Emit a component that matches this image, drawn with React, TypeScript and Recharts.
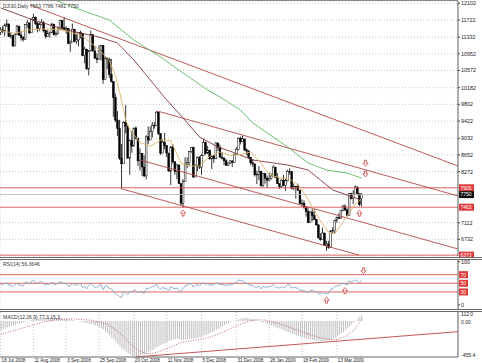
import React from 'react';
import {
  ComposedChart, Bar, Line, XAxis, YAxis, CartesianGrid, ReferenceLine, ReferenceDot,
} from 'recharts';

// DJI30 daily bars, 18 Jul 2008 .. 31 Mar 2009
const opens = [
  11446, 11496, 11467, 11602, 11632, 11349, 11370, 11131, 11397, 11583,
  11378, 11326, 11284, 11615, 11656, 11431, 11734, 11782, 11643, 11532,
  11615, 11659, 11479, 11348, 11417, 11430, 11628, 11387, 11412, 11502,
  11715, 11543, 11516, 11532, 11188, 11220, 11510, 11231, 11268, 11434,
  11421, 10917, 11059, 10609, 11019, 11388, 11016, 10854, 10825, 11022,
  11143, 10365, 10851, 10831, 10483, 10325, 9955, 9447, 9258, 8579,
  8451, 9387, 9310, 8577, 8979, 8852, 9265, 9033, 8519, 8691,
  8378, 8175, 9065, 8991, 9180, 9325, 9319, 9625, 9139, 8695,
  8943, 8870, 8694, 8283, 8835, 8497, 8273, 8424, 7997, 7552,
  8046, 8443, 8479, 8726, 8829, 8149, 8419, 8591, 8376, 8635,
  8934, 8691, 8761, 8565, 8629, 8564, 8924, 8824, 8604, 8579,
  8519, 8419, 8468, 8515, 8483, 8668, 8776, 9034, 8952, 9015,
  8769, 8742, 8599, 8474, 8448, 8200, 8212, 8281, 7949, 8228,
  8123, 8077, 8116, 8174, 8375, 8149, 8000, 7936, 8078, 7956,
  8063, 8280, 8270, 7888, 7939, 7933, 7850, 7553, 7556, 7466,
  7365, 7115, 7351, 7270, 7182, 7063, 6763, 6726, 6876, 6594,
  6627, 6547, 6926, 6930, 7170, 7224, 7216, 7395, 7486, 7400,
  7278, 7776, 7660, 7749, 7924, 7776, 7663,
];
const highs = [
  11560, 11580, 11640, 11730, 11640, 11450, 11380, 11420, 11610, 11590,
  11470, 11350, 11630, 11720, 11660, 11760, 11867, 11800, 11680, 11670,
  11740, 11700, 11480, 11500, 11460, 11660, 11630, 11460, 11570, 11730,
  11715, 11790, 11580, 11532, 11250, 11640, 11520, 11400, 11450, 11480,
  11421, 11110, 11060, 11040, 11480, 11390, 11130, 10960, 11150, 11150,
  11143, 10900, 10880, 10860, 10840, 10330, 10050, 9650, 9450, 8900,
  9420, 9790, 9320, 9000, 9200, 9270, 9300, 9033, 8800, 8691,
  8640, 9100, 9300, 9300, 9400, 9400, 9650, 9630, 9140, 9000,
  9150, 8870, 8700, 8850, 8900, 8500, 8450, 8430, 8000, 8100,
  8600, 8600, 8740, 8830, 8830, 8430, 8620, 8630, 8670, 9020,
  8960, 8860, 8770, 8650, 8650, 8940, 8930, 8890, 8720, 8600,
  8560, 8480, 8530, 8530, 8680, 8830, 9050, 9070, 9090, 9015,
  8800, 8760, 8600, 8560, 8450, 8290, 8400, 8290, 8240, 8230,
  8180, 8250, 8230, 8420, 8375, 8240, 8000, 8100, 8200, 8110,
  8320, 8350, 8280, 8000, 7950, 8000, 7850, 7640, 7620, 7470,
  7440, 7380, 7420, 7420, 7200, 7063, 6870, 7000, 6880, 6700,
  6700, 6930, 7010, 7170, 7250, 7330, 7400, 7520, 7530, 7440,
  7780, 7790, 7850, 7960, 7924, 7776, 7786,
];
const lows = [
  11380, 11420, 11350, 11560, 11330, 11300, 11110, 11130, 11390, 11360,
  11250, 11230, 11284, 11540, 11400, 11430, 11700, 11610, 11440, 11470,
  11600, 11440, 11300, 11330, 11320, 11430, 11370, 11350, 11390, 11502,
  11500, 11480, 11410, 11170, 11000, 11220, 11220, 11180, 11120, 11300,
  10900, 10740, 10590, 10460, 11019, 11000, 10840, 10740, 10825, 10800,
  10270, 10365, 10600, 10400, 10300, 9520, 9400, 9080, 8540, 7882,
  8451, 9150, 8570, 8200, 8700, 8850, 9000, 8400, 8300, 8170,
  8150, 8100, 8900, 8991, 9050, 9250, 9319, 9110, 8650, 8690,
  8780, 8600, 8280, 7965, 8450, 8200, 8100, 7990, 7510, 7449,
  8046, 8350, 8400, 8700, 8140, 8149, 8280, 8330, 8200, 8635,
  8660, 8680, 8540, 8330, 8470, 8564, 8740, 8580, 8550, 8420,
  8400, 8400, 8450, 8380, 8470, 8660, 8760, 8890, 8940, 8740,
  8650, 8560, 8420, 8380, 8160, 7990, 8080, 7940, 7930, 8000,
  7910, 8050, 8090, 8174, 8120, 7990, 7880, 7900, 7940, 7830,
  8050, 8200, 7870, 7850, 7660, 7840, 7530, 7480, 7430, 7250,
  7100, 7110, 7140, 7170, 7040, 6760, 6700, 6726, 6580, 6470,
  6517, 6547, 6860, 6860, 7110, 7200, 7200, 7370, 7380, 7250,
  7278, 7640, 7530, 7749, 7740, 7483, 7481,
];
const closes = [
  11496, 11467, 11602, 11632, 11349, 11370, 11131, 11397, 11583, 11378,
  11326, 11284, 11615, 11656, 11431, 11734, 11782, 11643, 11532, 11615,
  11659, 11479, 11348, 11417, 11430, 11628, 11387, 11412, 11502, 11715,
  11543, 11516, 11532, 11188, 11220, 11510, 11231, 11268, 11434, 11421,
  10917, 11059, 10609, 11019, 11388, 11016, 10854, 10825, 11022, 11143,
  10365, 10851, 10831, 10483, 10325, 9955, 9447, 9258, 8579, 8451,
  9387, 9310, 8577, 8979, 8852, 9265, 9033, 8519, 8691, 8378,
  8175, 9065, 8991, 9180, 9325, 9319, 9625, 9139, 8695, 8943,
  8870, 8694, 8283, 8835, 8497, 8273, 8424, 7997, 7552, 8046,
  8443, 8479, 8726, 8829, 8149, 8419, 8591, 8376, 8635, 8934,
  8691, 8761, 8565, 8629, 8564, 8924, 8824, 8604, 8579, 8519,
  8419, 8468, 8515, 8483, 8668, 8776, 9034, 8952, 9015, 8769,
  8742, 8599, 8474, 8448, 8200, 8212, 8281, 7949, 8228, 8123,
  8077, 8116, 8174, 8375, 8149, 8000, 7936, 8078, 7956, 8063,
  8280, 8270, 7888, 7939, 7933, 7850, 7553, 7556, 7466, 7365,
  7115, 7351, 7270, 7182, 7063, 6763, 6726, 6876, 6594, 6627,
  6547, 6926, 6930, 7170, 7224, 7216, 7395, 7486, 7400, 7278,
  7776, 7660, 7749, 7924, 7776, 7522, 7750,
];

// moving averages as [bar, value]
const ma10Pts = [
  [0, 11480], [7, 11420], [14, 11500], [22, 11520], [29, 11500], [34, 11440], [39, 11380],
  [44, 11200], [48, 11050], [53, 10800], [56, 10450], [58, 10100], [61, 9450], [63, 9230],
  [68, 8930], [73, 8850], [78, 8990], [83, 8980], [88, 8460], [92, 8400], [97, 8400],
  [102, 8620], [107, 8720], [112, 8640], [117, 8660], [122, 8720], [127, 8460], [131, 8210],
  [136, 8130], [141, 8110], [146, 7930], [151, 7560], [156, 7150], [160, 6890], [163, 6860],
  [167, 7130], [170, 7330], [173, 7530], [176, 7650],
];
const ma50Pts = [
  [0, 11995], [16, 11722], [32, 11495], [48, 11335], [57, 11198], [65, 10812], [73, 10357],
  [81, 9902], [89, 9493], [97, 9060], [106, 8833], [113, 8719], [123, 8537], [140, 8423],
  [150, 8309], [156, 8082], [162, 7855], [169, 7741], [176, 7627],
];
const ma100Pts = [
  [20, 12300], [35, 12018], [53, 11722], [65, 11267], [78, 10880], [89, 10516], [101, 10130],
  [107, 9970], [117, 9675], [123, 9380], [140, 8833], [150, 8469], [159, 8309], [169, 8241],
  [176, 8127],
];

const rsi = [
  46, 48, 50, 51, 45, 46, 42, 47, 50, 46,
  45, 44, 52, 53, 48, 55, 56, 52, 50, 53,
  54, 49, 46, 48, 48, 53, 47, 48, 50, 55,
  51, 50, 50, 43, 44, 50, 45, 46, 49, 49,
  40, 43, 37, 45, 51, 44, 41, 41, 45, 47,
  35, 44, 44, 38, 37, 31, 26, 24, 19, 18,
  30, 29, 24, 31, 30, 35, 33, 28, 32, 29,
  27, 38, 37, 40, 43, 43, 48, 41, 36, 40,
  39, 37, 33, 42, 39, 37, 39, 34, 30, 38,
  44, 45, 48, 50, 41, 45, 47, 44, 48, 52,
  48, 49, 46, 47, 46, 51, 50, 47, 47, 46,
  45, 46, 47, 46, 50, 52, 58, 56, 57, 51,
  50, 47, 45, 45, 41, 41, 43, 37, 43, 41,
  41, 42, 43, 47, 42, 40, 39, 42, 40, 42,
  47, 46, 39, 40, 40, 38, 34, 34, 33, 31,
  28, 34, 33, 32, 30, 26, 25, 30, 26, 27,
  26, 37, 37, 43, 44, 44, 48, 50, 48, 46,
  56, 53, 55, 58, 55, 51, 56.4,
];

const macd = [
  -120, -108, -96, -85, -75, -66, -57, -48, -40, -32,
  -24, -17, -10, -3, 3, 10, 17, 23, 28, 32,
  35, 37, 38, 39, 40, 40, 39, 37, 35, 33,
  31, 28, 25, 20, 15, 10, 5, 0, -5, -10,
  -16, -22, -28, -34, -40, -47, -56, -66, -78, -92,
  -110, -135, -160, -185, -210, -236, -265, -295, -325, -350,
  -370, -390, -408, -425, -440, -452, -455, -448, -438, -428,
  -418, -408, -396, -382, -366, -350, -334, -318, -303, -290,
  -278, -266, -255, -245, -237, -230, -228, -230, -234, -238,
  -236, -233, -230, -226, -222, -218, -212, -205, -197, -188,
  -178, -166, -154, -140, -126, -112, -98, -84, -70, -56,
  -42, -30, -18, -8, 2, 12, 22, 30, 36, 40,
  38, 34, 28, 22, 15, 8, 0, -10, -20, -30,
  -40, -50, -60, -70, -80, -90, -100, -110, -120, -130,
  -140, -150, -160, -170, -180, -190, -200, -208, -216, -224,
  -230, -236, -240, -244, -247, -250, -252, -253, -252, -248,
  -242, -234, -222, -208, -192, -175, -156, -136, -114, -92,
  -70, -46, -22, 2, 28, 54, 77,
];
const signalPts = [
  [0, -170], [10, -95], [20, -20], [28, 20], [36, 25], [45, 5], [52, -40], [58, -150],
  [63, -280], [67, -370], [71, -415], [76, -400], [82, -340], [88, -275], [94, -245],
  [100, -220], [106, -170], [112, -100], [118, -30], [124, 15], [129, 10], [134, -20],
  [140, -70], [146, -130], [152, -185], [158, -225], [163, -240], [168, -200], [172, -130],
  [176, 15],
];

const priceTicks = [12102, 11722, 11332, 10952, 10572, 10182, 9802, 9422, 9032, 8652, 8272, 7112, 6732];
const dateTicks = [0, 16, 32, 48, 65, 81, 98, 115, 131, 147, 164];
const dateLabels = [
  '18 Jul 2008', '11 Aug 2008', '3 Sep 2008', '25 Sep 2008', '20 Oct 2008', '11 Nov 2008',
  '5 Dec 2008', '31 Dec 2008', '26 Jan 2009', '18 Feb 2009', '13 Mar 2009',
];

// trend lines as [bar, price] pairs
const trendLines = [
  [[14.3, 12063], [223.1, 8400]],
  [[76.3, 9654], [223.1, 7718]],
  [[68, 8537], [223.1, 6512]],
  [[59, 7882], [174.8, 6373]],
];
const macdTrend = [[66, -455], [223.1, -136]];

const levels = [
  { y: 7905, text: '7905', color: '#d9534f', box: '#e03a3a' },
  { y: 7750, text: '7750', color: '#b8b8b8', box: '#111' },
  { y: 7463, text: '7463', color: '#d9534f', box: '#e03a3a' },
  { y: 6373, text: '6373', color: '#d9534f', box: '#e03a3a' },
];
const upArrows = [[89, 7330], [175, 7325]];
const downArrows = [[178, 8465], [178, 8220]];
const rsiUp = [[159, 11], [168, 33]];
const rsiDown = [[177, 79]];

const FONT = '"Liberation Sans", Arial, sans-serif';
const X_DOMAIN: [number, number] = [-0.3, 223.1];

const toMap = (pts: number[][]) => new Map(pts.map(([i, v]) => [i, v]));
const m10 = toMap(ma10Pts);
const m50 = toMap(ma50Pts);
const m100 = toMap(ma100Pts);
const sig = toMap(signalPts);

const mainData = closes.map((c, i) => ({
  i,
  range: [lows[i], highs[i]],
  o: opens[i],
  c,
  ma10: m10.get(i) ?? null,
  ma50: m50.get(i) ?? null,
  ma100: m100.get(i) ?? null,
}));
const rsiData = rsi.map((v, i) => ({ i, rsi: v }));
const macdData = macd.map((v, i) => ({ i, macd: v, signal: sig.get(i) ?? null }));

const Candle = (props: any) => {
  let { x, y, width, height } = props;
  const { payload } = props;
  if (height < 0) { y += height; height = -height; }
  const [lo, hi] = payload.range;
  const k = height / Math.max(hi - lo, 1);
  const cx = x + width / 2;
  const yO = y + (hi - payload.o) * k;
  const yC = y + (hi - payload.c) * k;
  const top = Math.min(yO, yC);
  const h = Math.max(Math.abs(yO - yC), 0.7);
  const bull = payload.c >= payload.o;
  return (
    <g>
      <line x1={cx} x2={cx} y1={y} y2={y + height} stroke="#000" strokeWidth={0.8} />
      <rect x={cx - 0.9} y={top} width={1.8} height={h} fill={bull ? '#fff' : '#000'} stroke="#000" strokeWidth={0.5} />
    </g>
  );
};

const boxLabel = (text: string, fill: string) => (props: any) => {
  const vb = props.viewBox || {};
  const x = (vb.x ?? 0) + (vb.width ?? 0) + 1;
  const y = vb.y ?? 0;
  const w = text.length * 3 + 3;
  return (
    <g>
      <rect x={x} y={y - 3.5} width={w} height={7} fill={fill} />
      <text x={x + 1.5} y={y + 1.9} fontSize={5} fill="#fff" fontFamily={FONT}>{text}</text>
    </g>
  );
};

const Arrow = ({ cx, cy, up }: any) => {
  const s = up ? 1 : -1;
  const pts = [
    [cx, cy - 3 * s], [cx + 2.6, cy], [cx + 1, cy], [cx + 1, cy + 3 * s],
    [cx - 1, cy + 3 * s], [cx - 1, cy], [cx - 2.6, cy],
  ].map((p) => p.join(',')).join(' ');
  return <polygon points={pts} fill="#fff" stroke="#d04040" strokeWidth={0.8} />;
};

const DateTick = ({ x, y, payload }: any) => {
  const idx = dateTicks.indexOf(payload.value);
  return (
    <text x={x + 1} y={y + 5} fontSize={4.6} fill="#222" fontFamily={FONT} textAnchor="start">
      {dateLabels[idx]}
    </text>
  );
};

const MacdTick = ({ x, y, payload }: any) => {
  const v = payload.value;
  const label = v === 112 ? '112.0' : v === 0 ? '0.00' : v.toFixed(1);
  const dy = v === 112 ? 3.5 : v === 0 ? 3 : -0.5;
  return <text x={x} y={y + dy} fontSize={5} fill="#222" fontFamily={FONT}>{label}</text>;
};

const tickStyle = { fontSize: 5.4, fill: '#222', fontFamily: FONT };
const gridStroke = '#c8c8c8';

const Separator = ({ top }: { top: number }) => (
  <div style={{ position: 'absolute', left: 0, top, width: 482, height: 1, borderTop: '1px solid #6a6a6a', borderBottom: '1px solid #6a6a6a' }} />
);

const Title = ({ top, text }: { top: number; text: string }) => (
  <div style={{ position: 'absolute', left: 3, top, fontSize: 5, lineHeight: '6px', color: '#333', fontFamily: FONT, whiteSpace: 'nowrap' }}>{text}</div>
);

const App: React.FC = () => {
  return (
    <div style={{ position: 'absolute', left: 0, top: 0, width: 482, height: 363, background: '#fff', overflow: 'hidden' }}>
      <div style={{ position: 'absolute', left: 0, top: 0 }}>
        <ComposedChart width={482} height={258} data={mainData} margin={{ top: 1, right: 0, bottom: 2, left: 0 }}>
          <CartesianGrid stroke={gridStroke} strokeDasharray="1 2" />
          <XAxis type="number" dataKey="i" domain={X_DOMAIN} ticks={dateTicks} allowDataOverflow height={0} tick={false} tickLine={false} axisLine={false} />
          <YAxis orientation="right" width={24} domain={[6353, 12154]} ticks={priceTicks} allowDataOverflow interval={0}
            tick={tickStyle} tickSize={2} tickMargin={1} tickLine={{ stroke: '#444' }} axisLine={{ stroke: '#666' }} />
          {levels.map((l) => (
            <ReferenceLine key={l.text} y={l.y} stroke={l.color} strokeWidth={0.9} label={boxLabel(l.text, l.box)} />
          ))}
          {trendLines.map(([a, b], k) => (
            <ReferenceLine key={k} segment={[{ x: a[0], y: a[1] }, { x: b[0], y: b[1] }]} stroke="#b54848" strokeWidth={0.9} ifOverflow="visible" />
          ))}
          <Line dataKey="ma100" stroke="#62b862" strokeWidth={0.9} dot={false} connectNulls isAnimationActive={false} />
          <Line dataKey="ma50" stroke="#7e3838" strokeWidth={0.9} dot={false} connectNulls isAnimationActive={false} />
          <Bar dataKey="range" barSize={2} shape={<Candle />} isAnimationActive={false} />
          <Line dataKey="ma10" stroke="#e0b468" strokeWidth={0.9} dot={false} connectNulls isAnimationActive={false} />
          {upArrows.map(([x, y], k) => (
            <ReferenceDot key={'u' + k} x={x} y={y} r={3} shape={(p: any) => <Arrow cx={p.cx} cy={p.cy} up />} />
          ))}
          {downArrows.map(([x, y], k) => (
            <ReferenceDot key={'d' + k} x={x} y={y} r={3} shape={(p: any) => <Arrow cx={p.cx} cy={p.cy} up={false} />} />
          ))}
        </ComposedChart>
      </div>
      <Title top={3} text="DJI30,Daily  7663 7786 7481 7750" />
      <div style={{ position: 'absolute', left: 0, top: 0, width: 458, height: 1, background: '#8a8a8a' }} />
      <Separator top={257} />

      <div style={{ position: 'absolute', left: 0, top: 260 }}>
        <ComposedChart width={482} height={49} data={rsiData} margin={{ top: 0, right: 0, bottom: 0, left: 0 }}>
          <CartesianGrid stroke={gridStroke} strokeDasharray="1 2" horizontal={false} />
          <XAxis type="number" dataKey="i" domain={X_DOMAIN} ticks={dateTicks} allowDataOverflow height={0} tick={false} tickLine={false} axisLine={false} />
          <YAxis orientation="right" width={24} domain={[-9.5, 103.9]} ticks={[0, 100]} allowDataOverflow interval={0}
            tick={tickStyle} tickSize={2} tickMargin={1} tickLine={{ stroke: '#444' }} axisLine={{ stroke: '#666' }} />
          {[70, 50, 30].map((v) => (
            <ReferenceLine key={v} y={v} stroke="#d9534f" strokeWidth={0.9} label={boxLabel(String(v), '#e03a3a')} />
          ))}
          <Line dataKey="rsi" stroke="#7fa8c8" strokeWidth={0.9} dot={false} isAnimationActive={false} />
          {rsiUp.map(([x, y], k) => (
            <ReferenceDot key={'ru' + k} x={x} y={y} r={3} shape={(p: any) => <Arrow cx={p.cx} cy={p.cy} up />} />
          ))}
          {rsiDown.map(([x, y], k) => (
            <ReferenceDot key={'rd' + k} x={x} y={y} r={3} shape={(p: any) => <Arrow cx={p.cx} cy={p.cy} up={false} />} />
          ))}
        </ComposedChart>
      </div>
      <Title top={261} text="RSI(14) 56.3646" />
      <Separator top={309} />

      <div style={{ position: 'absolute', left: 0, top: 312 }}>
        <ComposedChart width={482} height={51} data={macdData} margin={{ top: 0, right: 0, bottom: 0, left: 0 }}>
          <CartesianGrid stroke={gridStroke} strokeDasharray="1 2" horizontal={false} />
          <XAxis type="number" dataKey="i" domain={X_DOMAIN} ticks={dateTicks} allowDataOverflow height={6} interval={0}
            tick={<DateTick />} tickSize={0} tickMargin={0} tickLine={false} axisLine={{ stroke: '#666' }} />
          <YAxis orientation="right" width={24} domain={[-455.4, 112]} ticks={[-455.4, 0, 112]} allowDataOverflow interval={0}
            tick={<MacdTick />} tickSize={2} tickMargin={1} tickLine={false} axisLine={{ stroke: '#666' }} />
          <Bar dataKey="macd" fill="#bdbdbd" barSize={1} isAnimationActive={false} />
          <Line dataKey="signal" stroke="#b04848" strokeWidth={0.8} strokeDasharray="1 1.5" dot={false} connectNulls isAnimationActive={false} />
          <ReferenceLine segment={[{ x: macdTrend[0][0], y: macdTrend[0][1] }, { x: macdTrend[1][0], y: macdTrend[1][1] }]} stroke="#c04444" strokeWidth={0.9} ifOverflow="visible" />
        </ComposedChart>
      </div>
      <Title top={314} text="MACD(12,26,9) 77.3,15.3" />
    </div>
  );
};

export default App;
